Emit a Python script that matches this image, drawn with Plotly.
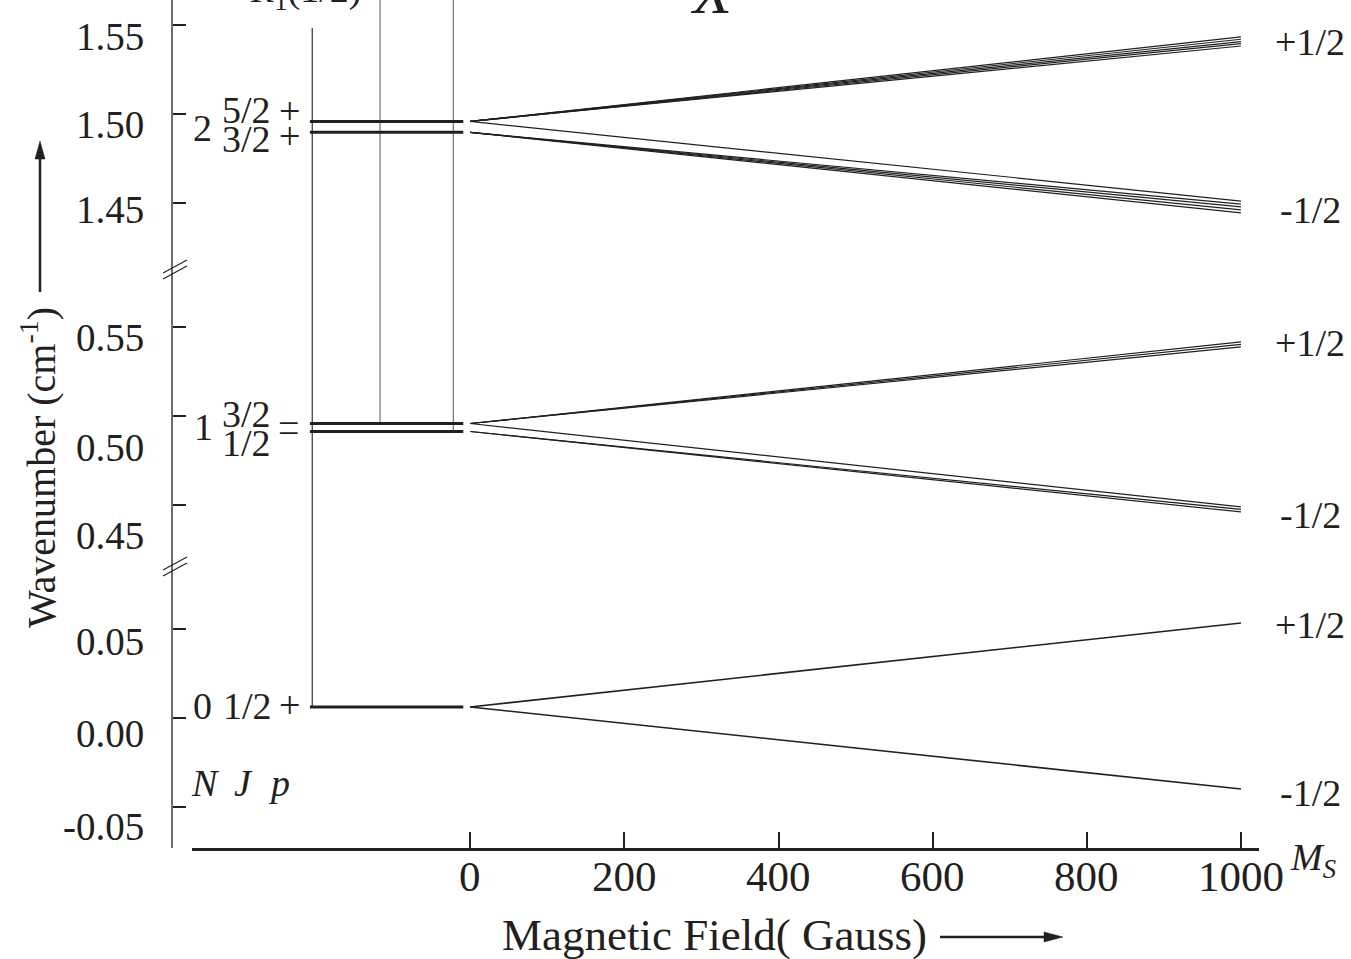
import plotly.graph_objects as go

W, H = 1351, 959

# ---------------- data ----------------
field_zeeman = [0, 1000]                 # Gauss, Zeeman fan
field_zero = [-208, -9]                  # zero-field level segment
transition_fields = [-205, -117, -22]    # vertical transition lines

n2_levels = [1.4958, 1.4897]             # N=2: J=5/2+, J=3/2+
n2_up_ends = [1.5433, 1.5420, 1.5407, 1.5395, 1.5382]   # Ms=+1/2 (from 5/2)
n2_dn_ends = [1.4511, 1.4494, 1.4478, 1.4461, 1.4444]   # Ms=-1/2 (1st from 5/2, rest from 3/2)
n1_levels = [0.4958, 0.4913]             # N=1: J=3/2-, J=1/2-
n1_up_ends = [0.5416, 0.5402, 0.5388]    # Ms=+1/2 (from 3/2)
n1_dn_ends = [0.4489, 0.4475, 0.4461]    # Ms=-1/2 (1st from 3/2, rest from 1/2)
n0_levels = [0.0062]                     # N=0: J=1/2+
n0_up_ends = [0.0534]
n0_dn_ends = [-0.0399]
r1_top = 1.5483                          # top end of R1(1/2) line

y_ticks_top = [1.45, 1.50, 1.55]
y_ticks_mid = [0.45, 0.50, 0.55]
y_ticks_bot = [-0.05, 0.00, 0.05]
x_ticks = [0, 200, 400, 600, 800, 1000]

# ---------------- layout constants ----------------
X_RANGE = [-361.0, 1023.4]
Y1_RANGE = [-0.07303, 0.08427]
Y2_RANGE = [0.41461, 0.58483]
Y3_RANGE = [1.41517, 1.56404]

INK = "#231F20"
FONT = "Liberation Serif"


def px_x(px):
    return px / W


def px_y(py):
    return 1 - py / H


fig = go.Figure()


def seg(xs, ys, axis, width, color=INK):
    fig.add_trace(go.Scatter(x=xs, y=ys, mode="lines", xaxis="x", yaxis=axis,
                             line=dict(color=color, width=width),
                             hoverinfo="skip", showlegend=False))


# vertical transition lines
bR, bA, bB = transition_fields
seg([bR, bR], [n0_levels[0], Y1_RANGE[1]], "y", 1.1)
seg([bR, bR], [Y2_RANGE[0], Y2_RANGE[1]], "y2", 1.1)
seg([bR, bR], [Y3_RANGE[0], r1_top], "y3", 1.1)
seg([bA, bA], [n1_levels[0], Y2_RANGE[1]], "y2", 1.0, "#555555")
seg([bA, bA], [Y3_RANGE[0], Y3_RANGE[1]], "y3", 1.0, "#555555")
seg([bB, bB], [n1_levels[1], Y2_RANGE[1]], "y2", 1.0, "#555555")
seg([bB, bB], [Y3_RANGE[0], Y3_RANGE[1]], "y3", 1.0, "#555555")

# zero-field levels
for v in n2_levels:
    seg(field_zero, [v, v], "y3", 3)
for v in n1_levels:
    seg(field_zero, [v, v], "y2", 3)
for v in n0_levels:
    seg(field_zero, [v, v], "y", 3)

# Zeeman fans
ZW = 1.2
for e in n2_up_ends:
    seg(field_zeeman, [n2_levels[0], e], "y3", ZW)
seg(field_zeeman, [n2_levels[0], n2_dn_ends[0]], "y3", ZW)
for e in n2_dn_ends[1:]:
    seg(field_zeeman, [n2_levels[1], e], "y3", ZW)

for e in n1_up_ends:
    seg(field_zeeman, [n1_levels[0], e], "y2", ZW)
seg(field_zeeman, [n1_levels[0], n1_dn_ends[0]], "y2", ZW)
for e in n1_dn_ends[1:]:
    seg(field_zeeman, [n1_levels[1], e], "y2", ZW)

for e in n0_up_ends:
    seg(field_zeeman, [n0_levels[0], e], "y", 1.6)
for e in n0_dn_ends:
    seg(field_zeeman, [n0_levels[0], e], "y", 1.6)

# ---------------- axes ----------------
ypos = px_x(172)


def yaxis(dom, rng, ticks):
    return dict(domain=dom, range=rng, anchor="free", position=ypos,
                showline=True, linecolor="#6d6d6d", linewidth=1.5,
                ticks="inside", ticklen=13, tickwidth=1.5, tickcolor=INK,
                tickvals=ticks, showticklabels=False,
                showgrid=False, zeroline=False, fixedrange=True)


fig.update_layout(
    width=W, height=H, autosize=False,
    margin=dict(l=0, r=0, t=0, b=0),
    paper_bgcolor="white", plot_bgcolor="white",
    font=dict(family=FONT, color=INK),
    xaxis=dict(domain=[px_x(192), px_x(1259)], range=X_RANGE, anchor="y",
               showline=True, linecolor=INK, linewidth=2.5,
               ticks="inside", ticklen=16, tickwidth=2, tickcolor=INK,
               tickvals=x_ticks, showticklabels=False,
               showgrid=False, zeroline=False, fixedrange=True),
    yaxis=yaxis([px_y(848), px_y(568)], Y1_RANGE, y_ticks_bot),
    yaxis2=yaxis([px_y(568), px_y(265)], Y2_RANGE, y_ticks_mid),
    yaxis3=yaxis([px_y(265), 1.0], Y3_RANGE, y_ticks_top),
)

# ---------------- text ----------------
ann = []


def txt(text, px, py, size=38, xanchor="center", yanchor="middle", angle=0):
    ann.append(dict(text=text, x=px_x(px), y=px_y(py), xref="paper", yref="paper",
                    xanchor=xanchor, yanchor=yanchor, showarrow=False,
                    textangle=angle, font=dict(family=FONT, size=size, color=INK)))


# y tick labels (drawn slightly below their tick marks, as in the original)
tick_label_px = {"1.55": 37, "1.50": 124, "1.45": 209,
                 "0.55": 337, "0.50": 447, "0.45": 535,
                 "0.05": 641, "0.00": 733, "-0.05": 826}
for lab, py in tick_label_px.items():
    txt(lab, 146, py, 39, xanchor="right")

# x tick labels, tied to the data x positions
for t in x_ticks:
    ann.append(dict(text=str(t), x=t, y=px_y(876), xref="x", yref="paper",
                    xanchor="center", yanchor="middle", showarrow=False,
                    font=dict(family=FONT, size=43, color=INK)))

# level labels
txt("2", 202, 128)
txt("5/2", 246, 110)
txt("+", 289, 111)
txt("3/2", 246, 139)
txt("+", 289, 136)
txt("1", 203, 427)
txt("3/2", 246, 414)
txt("1/2", 246, 443)
txt("\u2212", 288, 423)
txt("\u2212", 288, 433)
txt("0", 202, 706)
txt("1/2", 247, 706)
txt("+", 289, 705)
txt("<i>N</i>", 205, 783)
txt("<i>J</i>", 243, 783)
txt("<i>p</i>", 279, 783)

# Ms labels on the right
for py, lab in [(42, "+1/2"), (210, "-1/2"), (343, "+1/2"), (515, "-1/2"),
                (625, "+1/2"), (793, "-1/2")]:
    txt(lab, 1310, py)

txt("<i>M</i><sub><i>S</i></sub>", 1288, 860, 38, xanchor="left")
txt("<i>R</i><sub>1</sub>(1/2)", 305, 18, 38, yanchor="bottom")
txt("<i>X</i>", 712, 29, 64, yanchor="bottom")

# axis titles
txt("Wavenumber (cm<sup>-1</sup>)", 38, 468, 40, angle=-90)
txt("Magnetic Field( Gauss)", 714, 935, 45)

fig.update_layout(annotations=ann)

# decorations: axis break marks and title arrows
shapes = []
for (x0, y0, x1, y1) in [(163, 273, 187, 260), (163, 279, 187, 266),
                         (163, 570, 187, 557), (163, 576, 187, 563)]:
    shapes.append(dict(type="line", xref="paper", yref="paper",
                       x0=px_x(x0), y0=px_y(y0), x1=px_x(x1), y1=px_y(y1),
                       line=dict(color=INK, width=1.1)))
# vertical arrow next to the y title
shapes.append(dict(type="line", xref="paper", yref="paper",
                   x0=px_x(40), y0=px_y(292), x1=px_x(40), y1=px_y(156),
                   line=dict(color=INK, width=2.5)))
shapes.append(dict(type="path", xref="paper", yref="paper",
                   path=f"M {px_x(40)} {px_y(141)} L {px_x(35)} {px_y(159)} "
                        f"L {px_x(45)} {px_y(159)} Z",
                   fillcolor=INK, line=dict(color=INK, width=0.5)))
# horizontal arrow after the x title
shapes.append(dict(type="line", xref="paper", yref="paper",
                   x0=px_x(940), y0=px_y(937), x1=px_x(1046), y1=px_y(937),
                   line=dict(color=INK, width=2.5)))
shapes.append(dict(type="path", xref="paper", yref="paper",
                   path=f"M {px_x(1063)} {px_y(937)} L {px_x(1044)} {px_y(932)} "
                        f"L {px_x(1044)} {px_y(942)} Z",
                   fillcolor=INK, line=dict(color=INK, width=0.5)))
fig.update_layout(shapes=shapes)

fig.write_html("out.html")
